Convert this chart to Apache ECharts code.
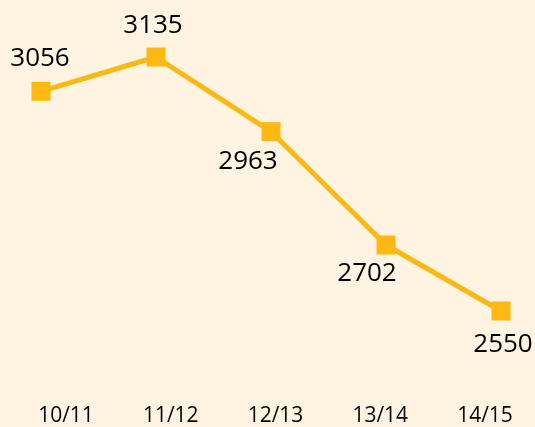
<!DOCTYPE html>
<html>
<head>
<meta charset="utf-8">
<script src="https://cdn.jsdelivr.net/npm/echarts@6/dist/echarts.min.js"></script>
<style>
html,body{margin:0;padding:0;background:#FFF4E2;}
#c{width:535px;height:427px;}
</style>
</head>
<body>
<div id="c"></div>
<script>
var categories = ['10/11', '11/12', '12/13', '13/14', '14/15'];
var values = [3056, 3135, 2963, 2702, 2550];
var tickLabels = ['10/11', '11/12', '12/13', '13/14', '14/15'];

// label layout (offsets from marker centre)
var labelOffsets = [[-1, -33], [-3, -31], [-23, 30], [-19, 29], [2, 34]];

var chart = echarts.init(document.getElementById('c'));
var lineColor = '#FDB813';
var FONT = '"Open Sans", "Noto Sans", sans-serif';

chart.setOption({
  backgroundColor: '#FFF4E2',
  animation: false,
  grid: [
    { left: 41, right: 535 - 501, top: 57, height: 254 },
    { left: 66, right: 535 - 485, top: 300, height: 100 }
  ],
  xAxis: [
    { gridIndex: 0, type: 'category', data: categories, boundaryGap: false, show: false },
    {
      gridIndex: 1, type: 'category', data: tickLabels, boundaryGap: false,
      axisLine: { show: false }, axisTick: { show: false }, splitLine: { show: false },
      axisLabel: { color: '#000', fontSize: 21, fontFamily: FONT, margin: 8, interval: 0 }
    }
  ],
  yAxis: [
    { gridIndex: 0, type: 'value', min: 2550, max: 3135, show: false },
    { gridIndex: 1, type: 'value', show: false }
  ],
  series: [{
    type: 'line',
    xAxisIndex: 0, yAxisIndex: 0,
    data: values.map(function (v, i) {
      return {
        value: v,
        label: { offset: labelOffsets[i] }
      };
    }),
    symbol: 'rect',
    symbolSize: 19,
    lineStyle: { color: lineColor, width: 5 },
    itemStyle: { color: lineColor },
    label: {
      show: true,
      position: 'inside',
      color: '#000',
      fontSize: 26,
      fontFamily: FONT
    }
  }]
});
</script>
</body>
</html>
